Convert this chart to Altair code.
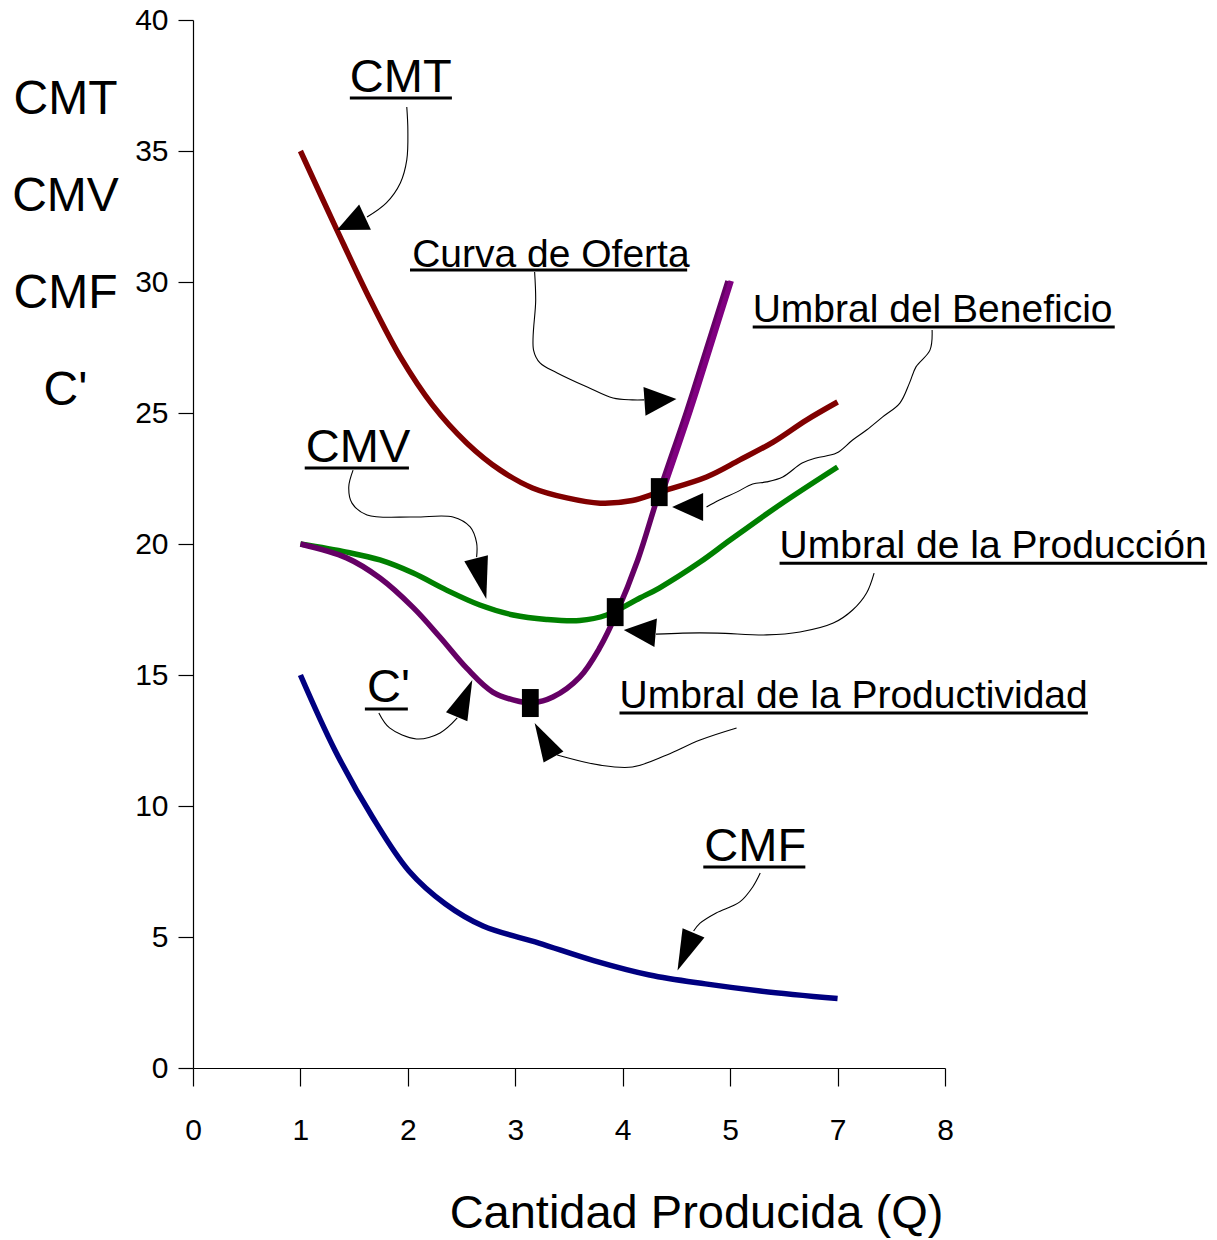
import altair as alt
import pandas as pd

FONT = "Liberation Sans, Arial, sans-serif"

# ---------------- curves (x = position on the category axis, y = cost) ----------------
cmt_x = [1.0, 1.34, 1.65, 1.93, 2.23, 2.55, 2.86, 3.16, 3.48, 3.79, 4.09, 4.34, 4.78, 5.09, 5.40, 5.71, 6.0]
cmt_y = [35.0, 31.98, 29.31, 27.14, 25.3, 23.85, 22.82, 22.14, 21.76, 21.56, 21.66, 21.98, 22.56, 23.21, 23.89, 24.73, 25.42]

cmv_x = [1.0, 1.43, 1.74, 2.05, 2.36, 2.67, 2.98, 3.29, 3.60, 3.85, 4.16, 4.34, 4.72, 5.0, 5.46, 6.0]
cmv_y = [20.0, 19.69, 19.39, 18.89, 18.24, 17.67, 17.29, 17.12, 17.08, 17.29, 17.94, 18.32, 19.31, 20.15, 21.49, 22.94]

cp_x = [1.0, 1.43, 1.74, 2.05, 2.30, 2.55, 2.79, 3.04, 3.16, 3.35, 3.60, 3.79, 3.94, 4.14, 4.34, 4.60, 4.78, 4.98]
cp_y = [20.0, 19.47, 18.70, 17.57, 16.44, 15.25, 14.35, 13.99, 13.94, 14.16, 14.92, 16.07, 17.33, 19.39, 21.98, 25.11, 27.44, 30.04]

sup_x = [4.37, 4.63, 4.81, 5.01]
sup_y = [21.98, 25.11, 27.44, 30.04]

cmf_x = [1.0, 1.32, 1.67, 2.01, 2.35, 2.70, 3.22, 3.73, 4.25, 4.77, 5.28, 6.0]
cmf_y = [15.0, 12.14, 9.58, 7.52, 6.26, 5.42, 4.77, 4.10, 3.55, 3.21, 2.94, 2.65]

# thresholds (black squares)
sq_x = [3.14, 3.93, 4.34]
sq_y = [13.93, 17.40, 21.98]

# x tick labels (category axis)
x_tick_labels = ["0", "1", "2", "3", "4", "5", "7", "8"]
y_ticks = [0, 5, 10, 15, 20, 25, 30, 35, 40]

# ---------------- annotations ----------------
label_text = ["CMT", "Curva de Oferta", "Umbral del Beneficio", "CMV",
              "Umbral de la Producción", "C'", "Umbral de la Productividad", "CMF"]
label_x = [1.46, 2.04, 5.21, 1.05, 5.46, 1.62, 3.97, 4.76]
label_y = [37.25, 30.57, 28.47, 23.13, 19.47, 13.97, 13.74, 7.90]
label_big = [True, False, False, True, False, True, False, True]

uline_x1 = [1.46, 2.02, 5.21, 1.04, 5.46, 1.60, 3.97, 4.75]
uline_x2 = [2.41, 4.60, 8.58, 2.01, 9.44, 2.00, 8.33, 5.70]
uline_y = [37.02, 30.46, 28.28, 22.90, 19.27, 13.70, 13.55, 7.67]

# arrow heads: tip position, direction angle, length, wide/narrow
arrow_x = [1.34, 4.50, 4.46, 2.73, 2.60, 4.01, 3.18, 4.51]
arrow_y = [31.98, 25.53, 21.41, 17.90, 14.81, 16.72, 13.17, 3.72]
arrow_angle = [245, 86, 270, 166, 23, 275, 331, 203]
arrow_len = [31, 32, 31, 42, 40, 32, 39, 41]
arrow_wide = [True, True, True, False, False, True, False, False]

# connector curves
conn_cmt_x = [1.99, 2.00, 1.99, 1.93, 1.80, 1.62]
conn_cmt_y = [36.68, 35.80, 34.66, 33.78, 33.02, 32.48]
conn_oferta_x = [3.18, 3.19, 3.17, 3.23, 3.39, 3.67, 3.91, 4.09, 4.20]
conn_oferta_y = [30.38, 29.31, 27.40, 26.91, 26.53, 25.99, 25.57, 25.50, 25.50]
conn_benef_x = [6.88, 6.86, 6.73, 6.67, 6.58, 6.42, 6.27, 6.14, 5.99, 5.80, 5.67, 5.49, 5.34, 5.21, 5.06, 4.90, 4.78]
conn_benef_y = [28.17, 27.40, 26.76, 26.15, 25.38, 24.85, 24.35, 23.97, 23.47, 23.28, 23.09, 22.56, 22.37, 22.29, 21.98, 21.68, 21.41]
conn_cmv_x = [1.49, 1.45, 1.48, 1.62, 2.05, 2.42, 2.58, 2.64, 2.64]
conn_cmv_y = [22.82, 22.18, 21.56, 21.11, 21.03, 21.03, 20.65, 20.04, 19.50]
conn_cp_x = [1.73, 1.83, 2.08, 2.30, 2.46]
conn_cp_y = [13.55, 12.98, 12.56, 12.79, 13.36]
conn_prod_x = [6.34, 6.27, 6.14, 5.96, 5.65, 5.34, 4.88, 4.56, 4.31]
conn_prod_y = [18.89, 18.13, 17.48, 16.98, 16.64, 16.53, 16.60, 16.60, 16.56]
conn_pvd_x = [5.06, 4.72, 4.41, 4.09, 3.79, 3.39]
conn_pvd_y = [12.98, 12.52, 11.95, 11.49, 11.56, 11.95]
conn_cmf_x = [5.28, 5.21, 5.09, 4.87, 4.72, 4.66]
conn_cmf_y = [7.44, 6.91, 6.34, 5.92, 5.53, 5.23]

# ---------------- tables ----------------
series_colors = {"CMT": "#800000", "CMV": "#008000", "C'": "#650065",
                 "Oferta": "#800080", "CMF": "#000080"}
curves = []
for name, xs, ys in [("CMT", cmt_x, cmt_y), ("CMV", cmv_x, cmv_y), ("C'", cp_x, cp_y),
                     ("Oferta", sup_x, sup_y), ("CMF", cmf_x, cmf_y)]:
    for i, (a, b) in enumerate(zip(xs, ys)):
        curves.append({"series": name, "x": a, "y": b, "k": i})
curves_df = pd.DataFrame(curves)

conns = []
for name, xs, ys in [("cmt", conn_cmt_x, conn_cmt_y), ("oferta", conn_oferta_x, conn_oferta_y),
                     ("benef", conn_benef_x, conn_benef_y), ("cmv", conn_cmv_x, conn_cmv_y),
                     ("cp", conn_cp_x, conn_cp_y), ("prod", conn_prod_x, conn_prod_y),
                     ("pvd", conn_pvd_x, conn_pvd_y), ("cmf", conn_cmf_x, conn_cmf_y)]:
    for i, (a, b) in enumerate(zip(xs, ys)):
        conns.append({"id": name, "x": a, "y": b, "k": i})
conn_df = pd.DataFrame(conns)

WIDE = "M0,0L0.45,1L-0.45,1Z"
NARROW = "M0,0L0.29,1L-0.29,1Z"
arrow_df = pd.DataFrame({
    "x": arrow_x, "y": arrow_y, "angle": arrow_angle,
    "shape": [WIDE if w else NARROW for w in arrow_wide],
    "size": [4 * L * L for L in arrow_len],
})
sq_df = pd.DataFrame({"x": sq_x, "y": sq_y})
lab_df = pd.DataFrame({"x": label_x, "y": label_y, "t": label_text,
                       "fs": [47 if b else 39 for b in label_big]})
ul_df = pd.DataFrame({"x": uline_x1, "x2": uline_x2, "y": uline_y})

# ---------------- encodings ----------------
label_expr = "[" + ",".join("'%s'" % s for s in x_tick_labels) + "][datum.value]"
X = alt.X("x:Q", scale=alt.Scale(domain=[0, 7], nice=False, zero=False),
          axis=alt.Axis(values=list(range(8)), labelExpr=label_expr, grid=False,
                        tickSize=18, labelPadding=29, labelFontSize=30,
                        labelFlush=False,
                        title="Cantidad Producida (Q)", titleFontSize=47,
                        titleX=503, titleY=159, titleAlign="center",
                        titleBaseline="alphabetic", titleAnchor="middle"))
Y = alt.Y("y:Q", scale=alt.Scale(domain=[0, 40], nice=False, zero=False),
          axis=alt.Axis(values=y_ticks, grid=False, tickSize=15, labelPadding=10,
                        labelFontSize=30, labelFlush=False,
                        title=["CMT", "CMV", "CMF", "C'"], titleFontSize=48,
                        titleAngle=0, titleX=-128, titleY=93, titleAlign="center",
                        titleBaseline="alphabetic", titleLineHeight=97))

lines = alt.Chart(curves_df).mark_line(strokeWidth=5.5, interpolate="catmull-rom").encode(
    x=X, y=Y,
    color=alt.Color("series:N", scale=alt.Scale(domain=list(series_colors.keys()),
                                                range=list(series_colors.values())),
                    legend=None),
    detail="series:N",
    order=alt.Order("k:Q"),
)

connectors = alt.Chart(conn_df).mark_line(strokeWidth=1.1, color="black",
                                          interpolate="catmull-rom").encode(
    x=X, y=Y, detail="id:N", order=alt.Order("k:Q"))

squares = alt.Chart(sq_df).mark_point(
    shape="M-0.6,-1L0.6,-1L0.6,1L-0.6,1Z", size=784, filled=True,
    color="black", opacity=1, strokeWidth=0).encode(x=X, y=Y)

arrows = alt.Chart(arrow_df).mark_point(filled=True, color="black", opacity=1,
                                         strokeWidth=0).encode(
    x=X, y=Y,
    shape=alt.Shape("shape:N", scale=None),
    angle=alt.Angle("angle:Q", scale=None),
    size=alt.Size("size:Q", scale=None),
)

underlines = alt.Chart(ul_df).mark_rule(strokeWidth=3, color="black").encode(
    x=X, x2="x2:Q", y=Y)

texts = alt.Chart(lab_df).mark_text(align="left", baseline="alphabetic",
                                    font=FONT, color="black").encode(
    x=X, y=Y, text="t:N", size=alt.Size("fs:Q", scale=None))

chart = alt.layer(lines, squares, connectors, arrows, underlines, texts).properties(
    width=752, height=1048,
    autosize=alt.AutoSizeParams(type="none"),
    padding={"left": 185, "top": 12, "right": 264, "bottom": 170},
).configure_view(stroke=None).configure_axis(
    domainColor="black", domainWidth=1.2, tickColor="black", tickWidth=1.2,
    labelColor="black", labelFont=FONT, titleFont=FONT, titleColor="black",
    titleFontWeight="normal",
)

chart.save("out.html", embed_options={"renderer": "svg", "actions": False})
